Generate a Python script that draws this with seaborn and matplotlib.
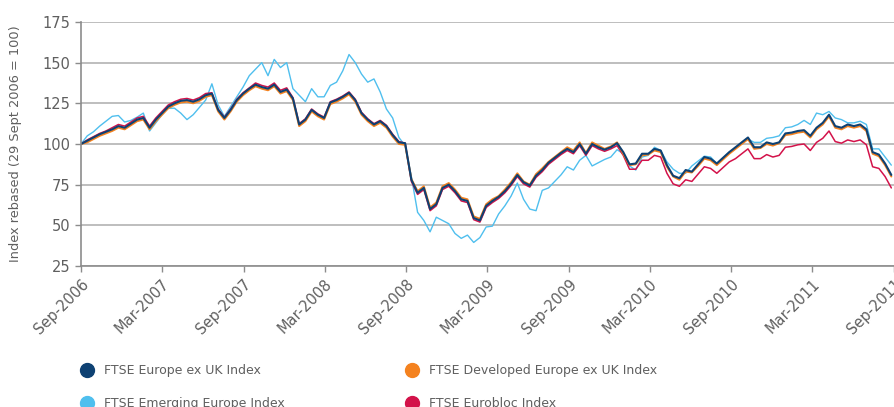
import pandas as pd
import numpy as np
import matplotlib
matplotlib.use("Agg")
import matplotlib.pyplot as plt
from matplotlib.lines import Line2D
import seaborn as sns

# fortnightly readings from 29 Sept 2006, index rebased to 100
start = "2006-09-29"
europe_ex_uk = [100, 102, 104, 106, 107.5, 109, 111, 110, 112.5, 115,
                116, 110, 115, 119, 123, 125, 126.5, 127, 126, 127.5,
                130, 131, 121, 116, 121, 127, 131, 134, 136.5, 135,
                134, 136.5, 132, 133.5, 128, 112, 115, 121, 118, 116,
                125.5, 127, 129, 131.5, 127, 119, 115, 112, 114, 111,
                105.5, 101, 100.5, 78, 70, 73, 60, 63, 73, 75,
                71, 66, 65, 54.5, 53, 62, 65, 67.5, 71, 75.5,
                81, 76.5, 74.5, 80.5, 84, 88.5, 91.5, 94.5, 97, 95,
                100, 94, 100, 98, 96.5, 98, 100.5, 95, 87.5, 88,
                94, 94, 97, 96, 87, 80.5, 79, 84, 83, 87.5,
                92, 91, 88, 91.5, 95, 98, 101, 104, 98, 98,
                101, 100, 101, 106.5, 107, 108, 108.5, 105, 110, 113,
                118, 111, 110, 112, 111, 112, 109, 95, 93.5, 88,
                81]
developed_ex_uk = [100, 101, 103, 105, 106.5, 108, 110, 109, 111.5, 114,
                   115, 109, 114, 118, 122, 124, 125.5, 126, 125, 126.5,
                   129, 130, 120, 115, 120, 126, 130, 133, 135.5, 134,
                   133, 135.5, 131, 132.5, 127, 111, 114, 120, 117, 115,
                   124.5, 126, 128, 130.5, 126, 118, 114, 111, 113, 110,
                   104.5, 100, 99.5, 78.5, 71, 74, 61, 64, 74, 76,
                   72, 67, 66, 55.5, 54, 63, 66, 68, 72, 76.5,
                   82, 77, 75, 81.5, 85, 89, 92, 95, 98, 96,
                   101, 94.5, 101, 99, 97, 98.5, 101, 94, 87, 87.5,
                   93, 93.5, 96, 95, 86, 80, 78, 83, 82.5, 86.5,
                   91, 90, 87, 90.5, 94, 97, 100, 103, 97, 97.5,
                   100, 99, 100.5, 105.5, 106, 107, 107.5, 104, 109, 112,
                   117, 110, 109, 111, 110, 111, 108, 94, 92.5, 87,
                   80]
emerging_europe = [100, 105, 107.5, 111, 114, 117, 117.5, 113.5, 114.5, 116.5,
                   119, 108, 113, 118, 122, 122, 119, 115, 118, 122.5,
                   127, 137, 124, 117, 123, 129, 135, 142, 146, 150,
                   142, 152, 147, 150, 134, 130, 126, 134, 129, 129,
                   136, 138, 145, 155, 150, 143, 138, 140, 132, 121.5,
                   116, 104, 99, 80, 58, 53, 46, 55, 53, 51,
                   45, 42, 44, 39.5, 42.5, 49, 49.5, 57, 62, 68,
                   76, 66, 60, 59, 71.5, 73, 77, 81, 86, 84,
                   90, 93, 86.5, 88.5, 90.5, 92, 96.5, 94, 86.5, 84,
                   92, 93, 98, 96, 89, 84.5, 82, 82, 86.5, 89.5,
                   92.5, 92, 88, 91.5, 95, 97.5, 100.5, 103, 101, 101,
                   103.5, 104, 105, 110, 110.5, 112, 114.5, 112, 119, 118,
                   120, 116, 115, 113, 113, 114, 112, 97, 97, 92,
                   87]
eurobloc = [100, 102.5, 104.5, 106.5, 108, 110, 112, 111, 113.5, 116,
            117, 111, 116, 120, 124, 126, 127.5, 128, 127, 128.5,
            131, 131.5, 121.5, 116.5, 121.5, 127.5, 131.5, 134.5, 137.5, 136,
            135, 137.5, 133, 134.5, 128.5, 112.5, 115.5, 121.5, 118.5, 116.5,
            126, 127.5, 129.5, 132, 127.5, 119.5, 115.5, 112.5, 114.5, 111.5,
            106, 101.5, 100.5, 77, 69, 72, 59, 62, 72, 74,
            70, 65, 64, 53.5, 52, 61, 64, 66.5, 70, 74.5,
            80, 75.5, 73.5, 79.5, 83, 87.5, 90.5, 93.5, 96, 94,
            99, 93, 99, 97, 95.5, 97, 99, 93, 84.5, 84.5,
            90, 90, 93, 92, 82, 75.5, 74, 78, 77, 81.5,
            86, 85, 82, 85.5, 89, 91, 94, 97, 91, 91,
            93.5, 92, 93, 98, 98.5, 99.5, 100, 96, 101, 103.5,
            108, 101.5, 100.5, 102.5, 101.5, 102.5, 99.5, 86, 85, 80,
            73]

labels = ["FTSE Europe ex UK Index", "FTSE Developed Europe ex UK Index",
          "FTSE Emerging Europe Index", "FTSE Eurobloc Index"]
colors = {"FTSE Europe ex UK Index": "#0e4173",
          "FTSE Developed Europe ex UK Index": "#f4821f",
          "FTSE Emerging Europe Index": "#4fbfee",
          "FTSE Eurobloc Index": "#d3124a"}
tick_labels = ["Sep-2006", "Mar-2007", "Sep-2007", "Mar-2008", "Sep-2008", "Mar-2009",
               "Sep-2009", "Mar-2010", "Sep-2010", "Mar-2011", "Sep-2011"]

dates = pd.date_range(start, periods=len(europe_ex_uk), freq="14D")
df = pd.DataFrame({"date": dates,
                   labels[0]: europe_ex_uk,
                   labels[1]: developed_ex_uk,
                   labels[2]: emerging_europe,
                   labels[3]: eurobloc})

sns.set_style("white")
plt.rcParams["font.family"] = ["DejaVu Sans"]

fig = plt.figure(figsize=(8.94, 4.07), dpi=100)
ax = fig.add_axes([0.0906, 0.3464, 0.9094, 0.5996])

# draw back to front, navy on top
for name, lw in [(labels[2], 1.0), (labels[3], 1.1), (labels[1], 1.4), (labels[0], 1.5)]:
    sns.lineplot(data=df, x="date", y=name, color=colors[name], linewidth=lw, ax=ax)

ax.set_ylim(25, 175)
ax.set_yticks(range(25, 176, 25))
ticks = [pd.Timestamp(start) + pd.DateOffset(months=6 * k) for k in range(len(tick_labels))]
ax.set_xlim(ticks[0], ticks[-1])
ax.set_xticks(ticks)
ax.set_xticklabels(tick_labels, rotation=45, ha="right", rotation_mode="anchor")

ax.grid(axis="y", color="#b3b3b3", linewidth=1.2)
ax.grid(axis="x", visible=False)
for side in ["top", "right"]:
    ax.spines[side].set_visible(False)
for side in ["left", "bottom"]:
    ax.spines[side].set_color("#8c8c8c")
    ax.spines[side].set_linewidth(1.2)
ax.tick_params(axis="both", colors="#8c8c8c", labelcolor="#5f5f5f", labelsize=10.5,
               length=4, width=1, direction="out", bottom=True, left=True)
ax.set_xlabel("")
ax.set_ylabel("Index rebased (29 Sept 2006 = 100)", color="#5f5f5f", fontsize=9.3, labelpad=15)

handles = [Line2D([], [], marker="o", linestyle="", markersize=10, color=colors[n])
           for n in [labels[0], labels[2], labels[1], labels[3]]]
fig.legend(handles, [labels[0], labels[2], labels[1], labels[3]], ncol=2, frameon=False,
           loc="upper left", bbox_to_anchor=(0.078, 0.117), fontsize=9, labelcolor="#5f5f5f",
           handletextpad=0.35, columnspacing=9.2, labelspacing=1.6, borderaxespad=0)

fig.savefig("out.png", dpi=100)
